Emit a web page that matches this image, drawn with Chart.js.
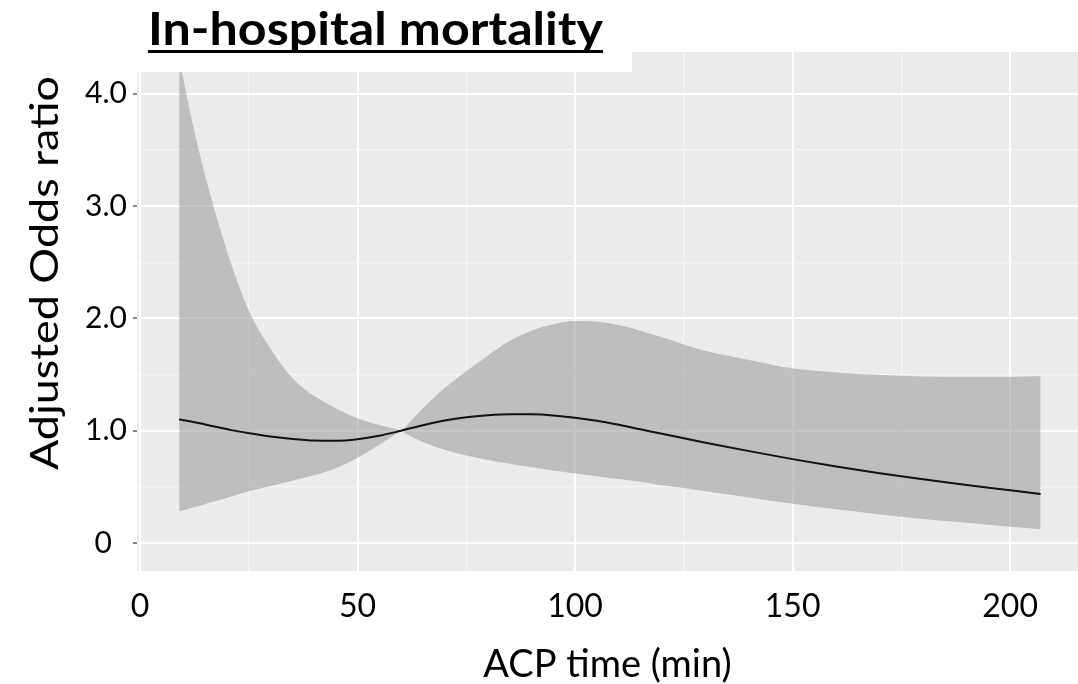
<!DOCTYPE html>
<html>
<head>
<meta charset="utf-8">
<script src="https://cdn.jsdelivr.net/npm/chart.js@4.4.1/dist/chart.umd.min.js"></script>
<style>
  html, body { margin: 0; padding: 0; background: #fff; }
</style>
</head>
<body>
<canvas id="grafico-mortalidad" width="1078" height="684"></canvas>
<script>
// valores
const acpTime = [9, 12, 15, 18, 21, 25, 30, 35, 40, 45, 50, 55, 59, 60, 61, 65, 70, 75, 80, 85, 90, 95, 100, 105, 110, 115, 120, 125, 130, 140, 150, 160, 170, 180, 190, 200, 207];
const oddsRatio = [1.10, 1.08, 1.055, 1.03, 1.005, 0.978, 0.948, 0.926, 0.912, 0.91, 0.924, 0.955, 0.99, 1.0, 1.01, 1.048, 1.09, 1.12, 1.138, 1.147, 1.146, 1.136, 1.116, 1.088, 1.052, 1.012, 0.972, 0.932, 0.893, 0.818, 0.747, 0.682, 0.622, 0.567, 0.516, 0.470, 0.437];
const lowerCI = [0.28, 0.314, 0.348, 0.381, 0.415, 0.46, 0.507, 0.555, 0.603, 0.665, 0.76, 0.875, 0.975, 1.0, 0.975, 0.90, 0.83, 0.78, 0.74, 0.705, 0.675, 0.645, 0.62, 0.595, 0.57, 0.545, 0.515, 0.49, 0.46, 0.405, 0.35, 0.30, 0.255, 0.215, 0.18, 0.145, 0.125];
const upperCI = [4.32, 3.75, 3.27, 2.85, 2.48, 2.07, 1.73, 1.47, 1.31, 1.20, 1.11, 1.05, 1.01, 1.0, 1.035, 1.20, 1.38, 1.53, 1.67, 1.80, 1.89, 1.948, 1.976, 1.97, 1.94, 1.89, 1.832, 1.768, 1.71, 1.63, 1.555, 1.518, 1.495, 1.483, 1.48, 1.48, 1.486];

const xMajorTicks = [0, 50, 100, 150, 200];
const xMinorTicks = [25, 75, 125, 175];
const yMajorTicks = [0, 1, 2, 3, 4];
const yTickLabels = ['0', '1.0', '2.0', '3.0', '4.0'];
const yMinorTicks = [0.5, 1.5, 2.5, 3.5];

const chartTitle = 'In-hospital mortality';
const xTitle = 'ACP time (min)';
const yTitle = 'Adjusted Odds ratio';

const toPoints = ys => acpTime.map((x, i) => ({ x: x, y: ys[i] }));
const allTicks = (major, minor) => major.concat(minor).sort((a, b) => a - b).map(v => ({ value: v }));

function gridStyle(major) {
  return {
    color: ctx => major.includes(ctx.tick.value) ? '#ffffff' : '#f6f6f6',
    lineWidth: ctx => major.includes(ctx.tick.value) ? 2 : 1.2
  };
}

// fondo gris del panel
const panelFondo = {
  id: 'panelFondo',
  beforeDraw(chart) {
    const { ctx, chartArea: a } = chart;
    ctx.save();
    ctx.fillStyle = '#ebebeb';
    ctx.fillRect(a.left, a.top, a.right - a.left, a.bottom - a.top);
    ctx.restore();
  }
};

// caja blanca del titulo y titulo del eje y
const titulos = {
  id: 'titulos',
  afterDraw(chart) {
    const ctx = chart.ctx;
    ctx.save();
    ctx.fillStyle = '#ffffff';
    ctx.fillRect(0, 0, 632, 72);

    ctx.fillStyle = '#000';
    ctx.font = 'bold 45px Lato';
    ctx.textBaseline = 'alphabetic';
    const w = ctx.measureText(chartTitle).width;
    ctx.save();
    ctx.translate(148, 45);
    ctx.scale(455 / w, 1);
    ctx.fillText(chartTitle, 0, 0);
    ctx.restore();
    ctx.fillRect(148, 50, 455, 3);

    ctx.font = '39px Lato';
    const wy = ctx.measureText(yTitle).width;
    ctx.translate(58, 273);
    ctx.rotate(-Math.PI / 2);
    ctx.scale(394 / wy, 1);
    ctx.textAlign = 'center';
    ctx.fillText(yTitle, 0, 0);
    ctx.restore();
  }
};

new Chart(document.getElementById('grafico-mortalidad'), {
  type: 'line',
  data: {
    datasets: [
      {
        label: 'Odds ratio',
        data: toPoints(oddsRatio),
        borderColor: '#111',
        borderWidth: 2,
        pointRadius: 0,
        fill: false,
        cubicInterpolationMode: 'monotone'
      },
      {
        label: 'Lower',
        data: toPoints(lowerCI),
        borderColor: 'rgba(0,0,0,0)',
        borderWidth: 0,
        pointRadius: 0,
        fill: false,
        cubicInterpolationMode: 'monotone'
      },
      {
        label: 'Upper',
        data: toPoints(upperCI),
        borderColor: 'rgba(0,0,0,0)',
        borderWidth: 0,
        pointRadius: 0,
        backgroundColor: 'rgba(160,160,160,0.6)',
        fill: '-1',
        cubicInterpolationMode: 'monotone'
      }
    ]
  },
  options: {
    responsive: false,
    animation: false,
    devicePixelRatio: 1,
    layout: { padding: { top: 52, right: 0, left: 0, bottom: 0 } },
    plugins: {
      legend: { display: false },
      tooltip: { enabled: false },
      title: { display: false }
    },
    scales: {
      x: {
        type: 'linear',
        min: -0.69,
        max: 215.6,
        afterBuildTicks: s => { s.ticks = allTicks(xMajorTicks, xMinorTicks); },
        afterFit: s => { s.height = 113; },
        grid: Object.assign({ drawTicks: false }, gridStyle(xMajorTicks)),
        border: { display: false },
        ticks: {
          autoSkip: false,
          maxRotation: 0,
          padding: 16,
          color: '#000',
          font: { family: 'Lato', size: 32 },
          callback: v => xMajorTicks.includes(v) ? String(v) : ''
        },
        title: {
          display: true,
          text: xTitle,
          color: '#000',
          font: { family: 'Lato', size: 38, lineHeight: 1 },
          padding: { top: 0, bottom: 0 }
        }
      },
      y: {
        type: 'linear',
        min: -0.249,
        max: 4.371,
        afterBuildTicks: s => { s.ticks = allTicks(yMajorTicks, yMinorTicks); },
        afterFit: s => { s.width = 137; },
        grid: Object.assign({
          tickLength: 4,
          tickWidth: 1.3,
          tickColor: ctx => yMajorTicks.includes(ctx.tick.value) ? '#444' : 'rgba(0,0,0,0)'
        }, gridStyle(yMajorTicks)),
        border: { display: false },
        ticks: {
          autoSkip: false,
          padding: 6,
          color: '#000',
          font: { family: 'Lato', size: 30 },
          callback: v => {
            const i = yMajorTicks.indexOf(v);
            if (i < 0) return '';
            return v === 0 ? yTickLabels[i] + '\u2002' : yTickLabels[i];
          }
        }
      }
    }
  },
  plugins: [panelFondo, titulos]
});
</script>
</body>
</html>
